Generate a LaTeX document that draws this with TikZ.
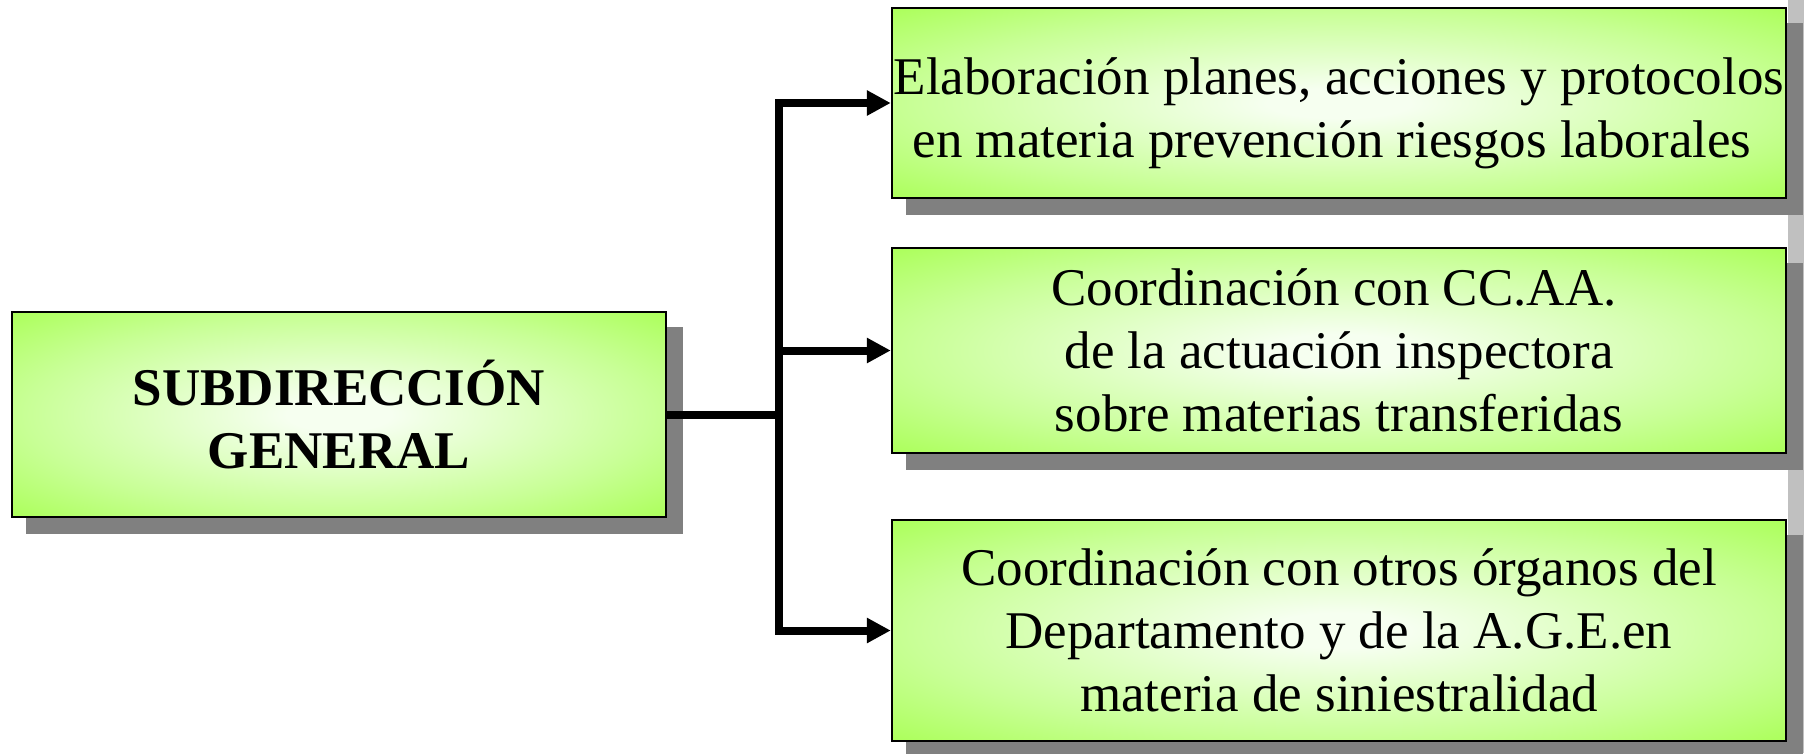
\documentclass[tikz,border=0pt]{standalone}
\usepackage{fontspec}
\setmainfont{Liberation Serif}
\usetikzlibrary{arrows.meta,backgrounds}
\definecolor{lime}{RGB}{153,255,51}
\definecolor{glowA}{RGB}{246,255,240}
\definecolor{glowB}{RGB}{200,255,150}
\definecolor{shadowgray}{RGB}{128,128,128}
\definecolor{stripgray}{RGB}{192,192,192}
\pgfdeclareradialshading{boxglow}{\pgfpointorigin}{color(0bp)=(glowA); color(4bp)=(glowA); color(24bp)=(glowB); color(43bp)=(lime); color(50bp)=(lime)}
\begin{document}
\begin{tikzpicture}[x=1pt,y=-1pt,
  box/.style={draw=black, line width=2.5pt, shading=boxglow, rectangle, inner sep=0pt, align=center, font=\fontsize{53}{63}\selectfont},
  conn/.style={line width=8pt},
  arr/.style={conn, -{Triangle[length=24pt,width=24pt]}}]
\useasboundingbox (0,0) rectangle (1804,753);
\node[box, minimum width=654pt, minimum height=205pt, font=\fontsize{53}{63}\selectfont\bfseries] (sub) at (339,414.5) {SUBDIRECCIÓN\\GENERAL};
\node[box, minimum width=894pt, minimum height=190pt] (b1) at (1339,103) {\rule{0pt}{58pt}Elaboración planes, acciones y protocolos\\en materia prevención riesgos laborales\hspace*{14pt}};
\node[box, minimum width=894pt, minimum height=205pt] (b2) at (1339,350.5) {Coordinación con CC.AA.\hspace*{10pt}\\de la actuación inspectora\\sobre materias transferidas};
\node[box, minimum width=894pt, minimum height=221pt] (b3) at (1339,630.5) {Coordinación con otros órganos del\\Departamento y de la A.G.E.en\\materia de siniestralidad};
\begin{scope}[on background layer]
\fill[stripgray] (1788,0) rectangle (1804,753);
\foreach \n in {sub,b1,b2,b3}{
  \fill[shadowgray] ([shift={(15,16)}]\n.north west) rectangle ([shift={(16,16)}]\n.south east);
}
\end{scope}
\coordinate (j) at (779,414.5);
\draw[conn] (sub.east) -- (j);
\draw[conn, line cap=rect] (j |- b1.west) -- (j |- b3.west);
\draw[arr] (j |- b1.west) -- (b1.west);
\draw[arr] (j |- b2.west) -- (b2.west);
\draw[arr] (j |- b3.west) -- (b3.west);
\end{tikzpicture}
\end{document}
